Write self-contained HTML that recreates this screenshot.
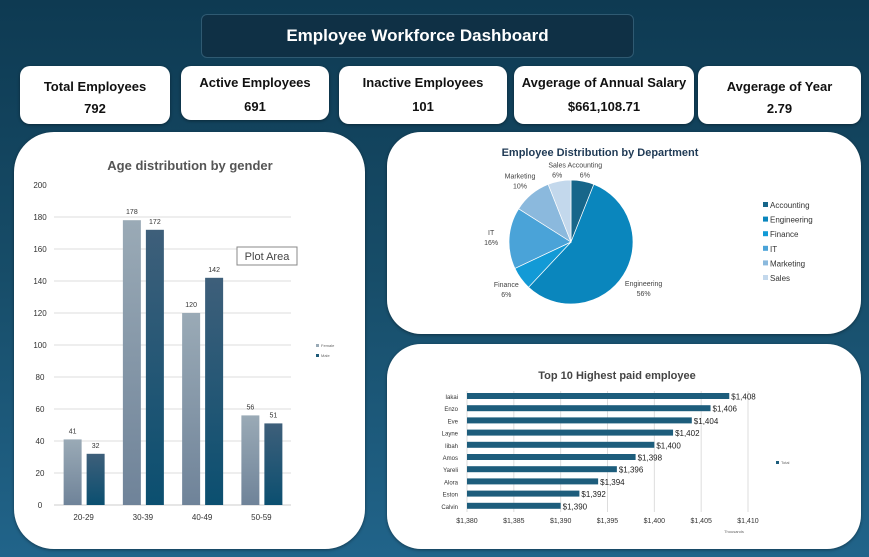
<!DOCTYPE html>
<html><head><meta charset="utf-8"><style>
body{margin:0;width:869px;height:557px;overflow:hidden;background:linear-gradient(180deg,#0e3a52 0%,#174d69 50%,#21648a 100%);font-family:"Liberation Sans",sans-serif;position:relative}
.box{position:absolute;background:#fff;border-radius:10px;box-shadow:0 1px 3px rgba(0,0,0,.4)}
.kpi{text-align:center;font-weight:bold;color:#111;font-size:13px}
.title{position:absolute;left:201px;top:14px;width:431px;height:42px;background:#0f3045;border:1px solid #2f5a72;border-radius:6px;color:#fff;font-weight:bold;font-size:17px;text-align:center;line-height:42px}
svg text{font-family:"Liberation Sans",sans-serif}
</style></head><body>
<div class="title">Employee Workforce Dashboard</div>
<div class="box kpi" style="left:20px;top:66px;width:150px;height:58px"><div style="margin-top:13px">Total Employees</div><div style="margin-top:7px">792</div></div>
<div class="box kpi" style="left:181px;top:66px;width:148px;height:54px"><div style="margin-top:9px">Active Employees</div><div style="margin-top:9px">691</div></div>
<div class="box kpi" style="left:339px;top:66px;width:168px;height:58px"><div style="margin-top:9px">Inactive Employees</div><div style="margin-top:9px">101</div></div>
<div class="box kpi" style="left:514px;top:66px;width:180px;height:58px"><div style="margin-top:9px">Avgerage of Annual Salary</div><div style="margin-top:9px">$661,108.71</div></div>
<div class="box kpi" style="left:698px;top:66px;width:163px;height:58px"><div style="margin-top:13px">Avgerage of Year</div><div style="margin-top:7px">2.79</div></div>

<div class="box" style="left:14px;top:132px;width:351px;height:417px;border-radius:40px"></div>
<div class="box" style="left:387px;top:132px;width:474px;height:202px;border-radius:34px"></div>
<div class="box" style="left:387px;top:344px;width:474px;height:205px;border-radius:34px"></div>

<svg id="s" width="869" height="557" style="position:absolute;left:0;top:0">
<defs>
<linearGradient id="gf" x1="0" y1="0" x2="0" y2="1"><stop offset="0" stop-color="#9aaab6"/><stop offset="1" stop-color="#6f8399"/></linearGradient>
<linearGradient id="gm" x1="0" y1="0" x2="0" y2="1"><stop offset="0" stop-color="#3e5f7a"/><stop offset="1" stop-color="#0b4f70"/></linearGradient>
</defs>
</svg>
<script>
const ageCats=["20-29","30-39","40-49","50-59"];
const female=[41,178,120,56];
const male=[32,172,142,51];
const ageTicks=[0,20,40,60,80,100,120,140,160,180,200];
const depts=["Accounting","Engineering","Finance","IT","Marketing","Sales"];
const deptPct=[6,56,6,16,10,6];
const deptColors=["#17668a","#0a86bd","#129ad6","#4aa3d8","#8bb9dd","#c3d8ec"];
const names=["Iakai","Enzo","Eve","Layne","Iibah","Amos","Yareli","Alora","Eston","Calvin"];
const pay=[1408,1406,1404,1402,1400,1398,1396,1394,1392,1390];
const payTicks=[1380,1385,1390,1395,1400,1405,1410];

const s=document.getElementById('s');const NS="http://www.w3.org/2000/svg";
function el(t,a,txt){const e=document.createElementNS(NS,t);for(const k in a)e.setAttribute(k,a[k]);if(txt!==undefined)e.textContent=txt;s.appendChild(e);return e;}

// age chart
const y=v=>505-v*1.6, x0=54, gw=59.25;
let e=el('text',{x:190,y:170,'text-anchor':'middle','font-size':13,'font-weight':'bold',fill:'#555'},'Age distribution by gender');

ageTicks.forEach(t=>{
 if(t>0&&t<200){e=el('line',{x1:x0,x2:291,y1:y(t),y2:y(t),stroke:'#ddd'});}
 e=el('text',{x:40,y:y(t)+3,'text-anchor':'middle','font-size':8,fill:'#333'},t);
 
});
e=el('line',{x1:x0,x2:291,y1:505,y2:505,stroke:'#ccc'});
ageCats.forEach((c,i)=>{
 const cx=x0+gw*(i+0.5);
 e=el('rect',{x:cx-20,y:y(female[i]),width:18,height:female[i]*1.6,fill:'url(#gf)'});
 
 e=el('rect',{x:cx+3,y:y(male[i]),width:18,height:male[i]*1.6,fill:'url(#gm)'});
 
 e=el('text',{x:cx-11,y:y(female[i])-6,'text-anchor':'middle','font-size':7,fill:'#333'},female[i]);
 
 e=el('text',{x:cx+12,y:y(male[i])-6,'text-anchor':'middle','font-size':7,fill:'#333'},male[i]);
 
 e=el('text',{x:cx,y:520,'text-anchor':'middle','font-size':8,fill:'#333'},c);
 
});
e=el('rect',{x:237,y:247,width:60,height:18,fill:'#fff',stroke:'#888'});
e=el('text',{x:267,y:260,'text-anchor':'middle','font-size':11,fill:'#444'},'Plot Area');
[['Female','#9aaab6',347],['Male','#1d5a78',357]].forEach(l=>{
 e=el('rect',{x:316,y:l[2]-3,width:3,height:3,fill:l[1]});
 e=el('text',{x:321,y:l[2],'font-size':4,fill:'#666'},l[0]);
});

// pie
e=el('text',{x:600,y:156,'text-anchor':'middle','font-size':11,'font-weight':'bold',fill:'#1f3a55'},'Employee Distribution by Department');

const pcx=571,pcy=242,r=62;let a0=0;const tot=deptPct.reduce((a,b)=>a+b,0);
deptPct.forEach((p,i)=>{
 const a1=a0+p/tot*2*Math.PI;
 const x1=pcx+r*Math.sin(a0),y1=pcy-r*Math.cos(a0),x2=pcx+r*Math.sin(a1),y2=pcy-r*Math.cos(a1);
 e=el('path',{d:`M${pcx},${pcy}L${x1},${y1}A${r},${r} 0 ${a1-a0>Math.PI?1:0} 1 ${x2},${y2}Z`,fill:deptColors[i],stroke:'#fff','stroke-width':0.7});
 
 const am=(a0+a1)/2,lr=r+(p>30?24:(Math.cos(am)>0.9?12:18));
 const lx=pcx+lr*Math.sin(am),ly=pcy-lr*Math.cos(am);
 e=el('text',{x:lx,y:ly-2,'text-anchor':'middle','font-size':7,fill:'#444'},depts[i]);
 
 e=el('text',{x:lx,y:ly+8,'text-anchor':'middle','font-size':7,fill:'#444'},p+'%');
 
 e=el('rect',{x:763,y:202+i*14.6,width:5,height:5,fill:deptColors[i]});
 e=el('text',{x:770,y:208+i*14.6,'font-size':8,fill:'#333'},depts[i]);
 a0=a1;
});

// top 10
e=el('text',{x:617,y:379,'text-anchor':'middle','font-size':11,'font-weight':'bold',fill:'#444'},'Top 10 Highest paid employee');

const px=v=>467+(v-1380)*(748-467)/30;
payTicks.forEach(t=>{
 e=el('line',{x1:px(t),x2:px(t),y1:391,y2:512,stroke:'#ddd'});
 e=el('text',{x:px(t),y:523,'text-anchor':'middle','font-size':7,fill:'#333'},'$'+t.toLocaleString('en-US'));
 
});
e=el('text',{x:734,y:533,'text-anchor':'middle','font-size':4,fill:'#666'},'Thousands');
names.forEach((n,i)=>{
 const yy=396+i*12.2;
 e=el('rect',{x:467,y:yy-3,width:px(pay[i])-467,height:6,fill:'#1d5d7c'});
 
 e=el('text',{x:458,y:yy+3,'text-anchor':'end','font-size':6,fill:'#333'},n);
 
 e=el('text',{x:px(pay[i])+2,y:yy+3.5,'font-size':8,fill:'#222'},'$'+pay[i].toLocaleString('en-US'));
 
});
e=el('rect',{x:776,y:461,width:3,height:3,fill:'#1d5d7c'});
e=el('text',{x:781,y:464,'font-size':4,fill:'#666'},'Total');
</script>
</body></html>
